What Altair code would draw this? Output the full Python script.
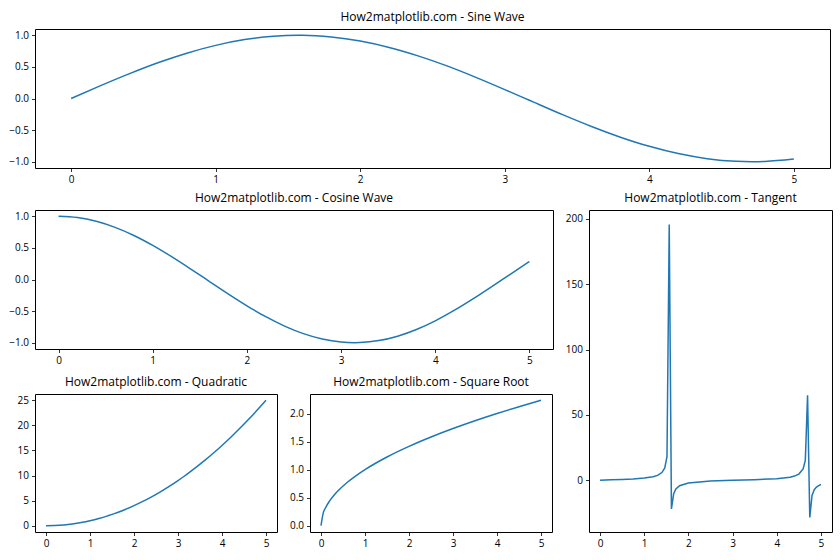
import altair as alt
import pandas as pd

FONT = "Open Sans"
BLUE = "#1f77b4"

# ---- data ----
x_main = [0.0, 0.2, 0.4, 0.6, 0.8, 1.0, 1.2, 1.4, 1.57, 1.6, 1.8, 2.0, 2.2, 2.4, 2.6, 2.8, 3.0,
          3.14, 3.2, 3.4, 3.6, 3.8, 4.0, 4.2, 4.4, 4.6, 4.71, 4.8, 5.0]
sine_vals = [0.0, 0.199, 0.389, 0.565, 0.717, 0.841, 0.932, 0.985, 1.0, 1.0, 0.974, 0.909, 0.808,
             0.675, 0.516, 0.335, 0.141, 0.002, -0.058, -0.256, -0.443, -0.612, -0.757, -0.872,
             -0.952, -0.994, -1.0, -0.996, -0.959]
cos_vals = [1.0, 0.980, 0.921, 0.825, 0.697, 0.540, 0.362, 0.170, 0.001, -0.029, -0.227, -0.416,
            -0.589, -0.737, -0.857, -0.942, -0.990, -1.0, -0.998, -0.967, -0.897, -0.791, -0.654,
            -0.490, -0.307, -0.112, -0.002, 0.087, 0.284]
quad_vals = [0.0, 0.04, 0.16, 0.36, 0.64, 1.0, 1.44, 1.96, 2.46, 2.56, 3.24, 4.0, 4.84, 5.76, 6.76,
             7.84, 9.0, 9.86, 10.24, 11.56, 12.96, 14.44, 16.0, 17.64, 19.36, 21.16, 22.18, 23.04, 25.0]

x_sqrt = [0.0, 0.05, 0.1, 0.2, 0.3, 0.4, 0.6, 0.8, 1.0, 1.25, 1.5, 2.0, 2.5, 3.0, 3.5, 4.0, 4.5, 5.0]
sqrt_vals = [0.0, 0.224, 0.316, 0.447, 0.548, 0.632, 0.775, 0.894, 1.0, 1.118, 1.225, 1.414, 1.581,
             1.732, 1.871, 2.0, 2.121, 2.236]

x_tan = [0.0, 0.25, 0.5, 0.75, 1.0, 1.2, 1.3, 1.4, 1.465, 1.515, 1.566, 1.616, 1.667, 1.717, 1.8,
         2.0, 2.5, 3.0, 3.5, 4.0, 4.3, 4.4, 4.5, 4.596, 4.646, 4.697, 4.747, 4.798, 4.848, 4.899,
         4.949, 5.0]
tan_vals = [0.0, 0.255, 0.546, 0.932, 1.557, 2.572, 3.602, 5.798, 9.38, 17.97, 195.6, -22.0, -10.4,
            -6.78, -4.286, -2.185, -0.747, -0.143, 0.375, 1.158, 2.286, 3.096, 4.637, 8.55, 15.15,
            64.9, -28.5, -11.66, -7.30, -5.30, -4.13, -3.381]

x_ticks = [0, 1, 2, 3, 4, 5]
unit_ticks = [-1.0, -0.5, 0.0, 0.5, 1.0]
quad_ticks = [0, 5, 10, 15, 20, 25]
sqrt_ticks = [0.0, 0.5, 1.0, 1.5, 2.0]
tan_ticks = [0, 50, 100, 150, 200]


def panel(xs, ys, title, w, h, ydom, yticks, yfmt, interp):
    df = pd.DataFrame({"x": xs, "y": ys})
    return (
        alt.Chart(df, title=alt.TitleParams(title))
        .mark_line(color=BLUE, strokeWidth=1.5, interpolate=interp)
        .encode(
            x=alt.X("x:Q", scale=alt.Scale(domain=[-0.25, 5.25], nice=False, zero=False),
                    axis=alt.Axis(values=x_ticks, format="d", title=None)),
            y=alt.Y("y:Q", scale=alt.Scale(domain=ydom, nice=False, zero=False),
                    axis=alt.Axis(values=yticks, format=yfmt, title=None)),
        )
        .properties(width=w, height=h)
    )


sine = panel(x_main, sine_vals, "How2matplotlib.com - Sine Wave", 795, 139,
             [-1.1, 1.1], unit_ticks, ".1f", "monotone")
cosine = panel(x_main, cos_vals, "How2matplotlib.com - Cosine Wave", 518, 139,
               [-1.1, 1.1], unit_ticks, ".1f", "monotone")
quad = panel(x_main, quad_vals, "How2matplotlib.com - Quadratic", 242, 138,
             [-1.25, 26.25], quad_ticks, "d", "monotone")
sqrt = panel(x_sqrt, sqrt_vals, "How2matplotlib.com - Square Root", 242, 138,
             [-0.112, 2.348], sqrt_ticks, ".1f", "monotone")
tangent = panel(x_tan, tan_vals, "How2matplotlib.com - Tangent", 243, 322,
                [-39.7, 206.8], tan_ticks, "d", "linear")

left = alt.vconcat(cosine, alt.hconcat(quad, sqrt, spacing=10), spacing=9)
lower = alt.hconcat(left, tangent, spacing=10)
chart = (
    alt.vconcat(sine, lower, spacing=6)
    .properties(padding={"left": 8, "top": 10, "right": 5, "bottom": 5}, background="white")
    .configure_view(stroke="#000000", strokeWidth=1)
    .configure_axis(domain=False, grid=False, ticks=True, tickSize=3.5, tickColor="#000000",
                    tickWidth=0.8, labelFont=FONT, labelFontSize=10, labelColor="#000000",
                    labelPadding=3, labelFlush=False, labelOverlap=False)
    .configure_title(font=FONT, fontSize=12, fontWeight="normal", color="#000000", offset=5)
)

chart.save("out.html", embed_options={"renderer": "svg", "actions": False})
